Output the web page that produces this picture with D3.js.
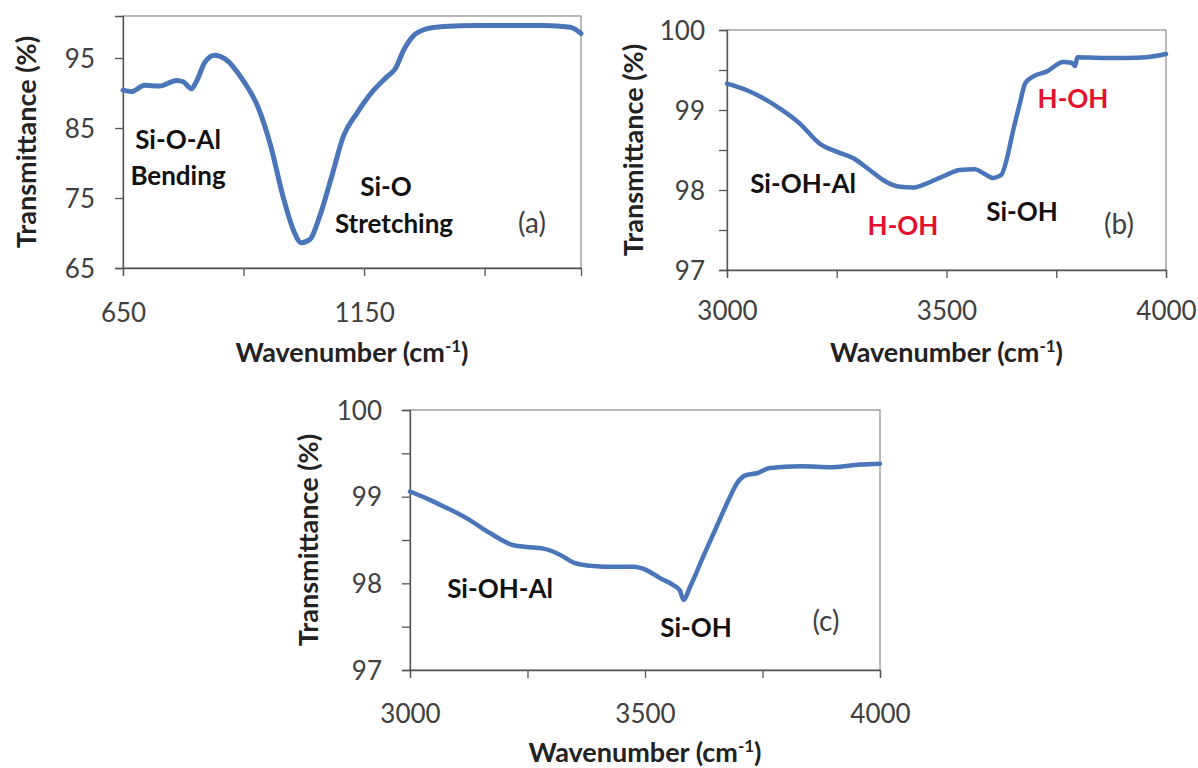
<!DOCTYPE html>
<html>
<head>
<meta charset="utf-8">
<script src="https://cdn.jsdelivr.net/npm/d3@7"></script>
<style>
  body { margin: 0; background: #fff; }
  text { font-family: Lato, "Open Sans", sans-serif; }
</style>
</head>
<body>
<div id="chart"></div>
<script>
// panel (a): 650-1600 cm-1
var waveA = [650, 667, 695, 726, 761, 775, 792, 802, 820, 840, 861, 899, 930, 955, 982, 1003, 1020, 1038, 1058, 1083, 1107, 1135, 1170, 1197, 1215, 1232, 1253, 1281, 1315, 1384, 1522, 1578, 1600];
var transA = [90.4, 90.2, 91.1, 91.0, 91.8, 91.6, 90.6, 91.6, 94.4, 95.4, 94.9, 91.8, 88.0, 82.8, 75.2, 70.5, 68.6, 69.1, 72.4, 78.1, 83.8, 87.1, 90.4, 92.3, 93.5, 96.1, 98.2, 99.2, 99.5, 99.65, 99.65, 99.4, 98.5];

// panel (b): 3000-4000 cm-1
var waveB = [3000, 3044, 3120, 3166, 3211, 3249, 3287, 3325, 3363, 3394, 3424, 3454, 3500, 3530, 3565, 3584, 3606, 3625, 3637, 3652, 3667, 3679, 3698, 3728, 3766, 3785, 3793, 3798, 3857, 3911, 3956, 4000];
var transB = [99.33, 99.25, 99.02, 98.83, 98.58, 98.48, 98.40, 98.25, 98.10, 98.04, 98.03, 98.08, 98.19, 98.25, 98.26, 98.21, 98.15, 98.19, 98.38, 98.75, 99.08, 99.33, 99.42, 99.48, 99.60, 99.59, 99.55, 99.66, 99.65, 99.65, 99.66, 99.70];

// panel (c): 3000-4000 cm-1
var waveC = [3000, 3035, 3078, 3121, 3170, 3220, 3248, 3284, 3319, 3348, 3390, 3433, 3475, 3504, 3532, 3560, 3574, 3582, 3596, 3624, 3652, 3681, 3695, 3716, 3738, 3766, 3830, 3901, 3957, 4000];
var transC = [99.06, 98.98, 98.87, 98.75, 98.58, 98.44, 98.42, 98.40, 98.33, 98.24, 98.20, 98.19, 98.19, 98.15, 98.06, 97.98, 97.92, 97.81, 97.96, 98.31, 98.65, 99.00, 99.15, 99.25, 99.27, 99.33, 99.35, 99.34, 99.37, 99.38];

var xTicksA = [650, 900, 1150, 1400];
var xLabelsA = ["650", "", "1150", ""];
var yTicksA = [65, 75, 85, 95];
var yLabelsA = ["65", "75", "85", "95"];

var xTicksBC = [3000, 3250, 3500, 3750, 4000];
var xLabelsBC = ["3000", "", "3500", "", "4000"];
var yTicksBC = [97, 97.5, 98, 98.5, 99, 99.5, 100];
var yLabelsBC = ["97", "", "98", "", "99", "", "100"];

var blue = "#4a76b9";
var red = "#e3102e";

var svg = d3.select("#chart").append("svg")
  .attr("width", 1198)
  .attr("height", 768);

function drawPanel(p) {
  var x = d3.scaleLinear().domain(p.xDomain).range([p.left, p.right]);
  var y = d3.scaleLinear().domain(p.yDomain).range([p.bottom, p.top]);
  var g = svg.append("g");

  // frame
  g.append("rect")
    .attr("x", p.left).attr("y", p.top)
    .attr("width", p.right - p.left).attr("height", p.bottom - p.top)
    .attr("fill", "none").attr("stroke", "#8c8c8c").attr("stroke-width", 1.2);

  var xAxis = d3.axisBottom(x).tickValues(p.xTicks).tickSize(8)
    .tickFormat(function(d, i) { return p.xLabels[i]; });
  var gx = g.append("g").attr("transform", "translate(0," + p.bottom + ")").call(xAxis);
  gx.select(".domain").attr("stroke", "#555").attr("stroke-width", 1.3);
  gx.selectAll(".tick line").attr("stroke", "#555").attr("stroke-width", 1.3);
  gx.selectAll(".tick text")
    .attr("font-size", 26).attr("fill", "#404040")
    .attr("dy", 0).attr("y", p.xLabelY);

  var yAxis = d3.axisLeft(y).tickValues(p.yTicks).tickSize(8)
    .tickFormat(function(d, i) { return p.yLabels[i]; });
  var gy = g.append("g").attr("transform", "translate(" + p.left + ",0)").call(yAxis);
  gy.select(".domain").attr("stroke", "#555").attr("stroke-width", 1.3);
  gy.selectAll(".tick line").attr("stroke", "#555").attr("stroke-width", 1.3);
  gy.selectAll(".tick text")
    .attr("font-size", 26).attr("fill", "#404040")
    .attr("x", p.yLabelX).attr("dy", "0.35em");

  var line = d3.line()
    .x(function(d) { return x(d[0]); })
    .y(function(d) { return y(d[1]); })
    .curve(d3.curveMonotoneX);

  g.append("path")
    .datum(d3.zip(p.wave, p.trans))
    .attr("d", line)
    .attr("fill", "none")
    .attr("stroke", blue)
    .attr("stroke-width", p.lineWidth)
    .attr("stroke-linejoin", "round")
    .attr("stroke-linecap", "round");

  // axis titles
  g.append("text")
    .attr("transform", "translate(" + p.yTitleX + "," + ((p.top + p.bottom) / 2) + ") rotate(-90)")
    .attr("text-anchor", "middle")
    .attr("font-size", 27).attr("font-weight", "bold").attr("fill", "#222")
    .text("Transmittance (%)");

  var xt = g.append("text")
    .attr("x", (p.left + p.right) / 2).attr("y", p.xTitleY)
    .attr("text-anchor", "middle")
    .attr("font-size", 27).attr("font-weight", "bold").attr("fill", "#222");
  xt.append("tspan").text("Wavenumber (cm");
  xt.append("tspan").attr("font-size", 17).attr("dy", -10).text("-1");
  xt.append("tspan").attr("dy", 10).text(")");

  p.notes.forEach(function(n) {
    g.append("text")
      .attr("x", n.x).attr("y", n.y)
      .attr("text-anchor", "middle")
      .attr("font-size", n.size || 26)
      .attr("font-weight", n.bold === false ? "normal" : "bold")
      .attr("fill", n.color || "#111")
      .text(n.text);
  });
}

drawPanel({
  left: 123, right: 581, top: 16, bottom: 268,
  xDomain: [650, 1600], yDomain: [65, 101],
  xTicks: xTicksA, xLabels: xLabelsA, yTicks: yTicksA, yLabels: yLabelsA,
  wave: waveA, trans: transA, lineWidth: 5,
  xLabelY: 54, yLabelX: -28, yTitleX: 36, xTitleY: 362,
  notes: [
    {text: "Si-O-Al", x: 178, y: 149},
    {text: "Bending", x: 178, y: 185},
    {text: "Si-O", x: 386, y: 196},
    {text: "Stretching", x: 394, y: 233},
    {text: "(a)", x: 532, y: 233, bold: false, color: "#404040", size: 28}
  ]
});

drawPanel({
  left: 727, right: 1166, top: 30, bottom: 270,
  xDomain: [3000, 4000], yDomain: [97, 100],
  xTicks: xTicksBC, xLabels: xLabelsBC, yTicks: yTicksBC, yLabels: yLabelsBC,
  wave: waveB, trans: transB, lineWidth: 4.5,
  xLabelY: 50, yLabelX: -22, yTitleX: 643, xTitleY: 362,
  notes: [
    {text: "Si-OH-Al", x: 803, y: 193},
    {text: "H-OH", x: 903, y: 235, color: red},
    {text: "Si-OH", x: 1022, y: 221},
    {text: "H-OH", x: 1073, y: 108, color: red},
    {text: "(b)", x: 1119, y: 234, bold: false, color: "#404040", size: 28}
  ]
});

drawPanel({
  left: 410, right: 880, top: 410, bottom: 670,
  xDomain: [3000, 4000], yDomain: [97, 100],
  xTicks: xTicksBC, xLabels: xLabelsBC, yTicks: yTicksBC, yLabels: yLabelsBC,
  wave: waveC, trans: transC, lineWidth: 4.5,
  xLabelY: 53, yLabelX: -28, yTitleX: 318, xTitleY: 762,
  notes: [
    {text: "Si-OH-Al", x: 500, y: 598},
    {text: "Si-OH", x: 696, y: 637},
    {text: "(c)", x: 826, y: 631, bold: false, color: "#404040", size: 28}
  ]
});
</script>
</body>
</html>
